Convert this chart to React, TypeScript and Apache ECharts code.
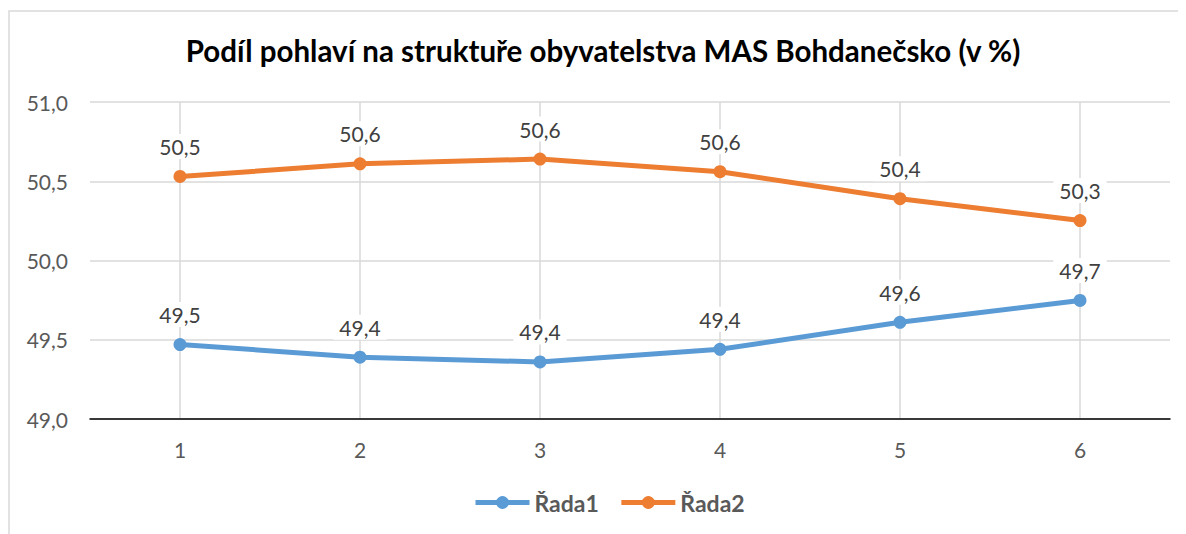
import React, { useEffect, useRef } from "react";
import * as echarts from "echarts";

const categories = ["1", "2", "3", "4", "5", "6"];
const rada1 = [49.47, 49.39, 49.36, 49.44, 49.61, 49.748];
const rada2 = [50.53, 50.61, 50.64, 50.56, 50.39, 50.252];
const seriesNames = ["Řada1", "Řada2"];
const titleText = "Podíl pohlaví na struktuře obyvatelstva MAS Bohdanečsko (v %)";

const FONT = "Lato, 'Open Sans', sans-serif";
const fmt = (v: number) => v.toFixed(1).replace(".", ",");

export default function App() {
  const ref = useRef<HTMLDivElement>(null);
  useEffect(() => {
    if (!ref.current) return;
    const chart = echarts.init(ref.current, null, { renderer: "svg" });
    const labelCfg = {
      show: true,
      position: "top",
      distance: 11,
      formatter: (p: any) => fmt(p.value),
      color: "#404040",
      fontSize: 21,
      fontFamily: FONT,
      backgroundColor: "#ffffff",
      padding: [2, 6],
    };
    chart.setOption({
      animation: false,
      backgroundColor: "#ffffff",
      textStyle: { fontFamily: FONT },
      title: {
        text: titleText,
        left: 590,
        top: 22,
        textAlign: "center",
        textStyle: { fontSize: 29.5, fontWeight: "bold", color: "#000000", fontFamily: FONT },
      },
      graphic: [
        {
          type: "rect",
          shape: { x: 1, y: 3, width: 1300, height: 700 },
          style: { fill: "none", stroke: "#d9d9d9", lineWidth: 1.5 },
          silent: true,
        },
      ],
      legend: {
        bottom: 15,
        left: 460,
        itemWidth: 54,
        itemHeight: 16,
        itemGap: 20,
        lineStyle: { width: 5 },
        textStyle: { fontSize: 23, fontWeight: "bold", color: "#595959", fontFamily: FONT },
        data: seriesNames,
      },
      grid: { left: 82, right: 16, top: 94, bottom: 115, containLabel: false },
      xAxis: {
        type: "category",
        data: categories,
        boundaryGap: true,
        axisLine: { show: true, lineStyle: { color: "#000000", width: 1.5 } },
        axisTick: { show: false },
        axisLabel: { color: "#595959", fontSize: 21, margin: 20, fontFamily: FONT },
        splitLine: { show: true, alignWithLabel: true, lineStyle: { color: "#d9d9d9", width: 1.5 } },
      },
      yAxis: {
        type: "value",
        min: 49,
        max: 51,
        interval: 0.5,
        axisLine: { show: false },
        axisTick: { show: false },
        axisLabel: { color: "#595959", fontSize: 21, margin: 22, formatter: (v: number) => fmt(v), fontFamily: FONT },
        splitLine: { lineStyle: { color: "#d9d9d9", width: 1.5 } },
      },
      series: [
        {
          name: seriesNames[0],
          type: "line",
          data: rada1,
          symbol: "circle",
          symbolSize: 13,
          color: "#5B9BD5",
          lineStyle: { width: 5, color: "#5B9BD5" },
          itemStyle: { color: "#5B9BD5" },
          label: labelCfg,
          z: 3,
        },
        {
          name: seriesNames[1],
          type: "line",
          data: rada2,
          symbol: "circle",
          symbolSize: 13,
          color: "#ED7D31",
          lineStyle: { width: 5, color: "#ED7D31" },
          itemStyle: { color: "#ED7D31" },
          label: labelCfg,
          z: 3,
        },
      ],
    });
    return () => chart.dispose();
  }, []);
  return <div ref={ref} style={{ width: 1178, height: 526 }} />;
}
